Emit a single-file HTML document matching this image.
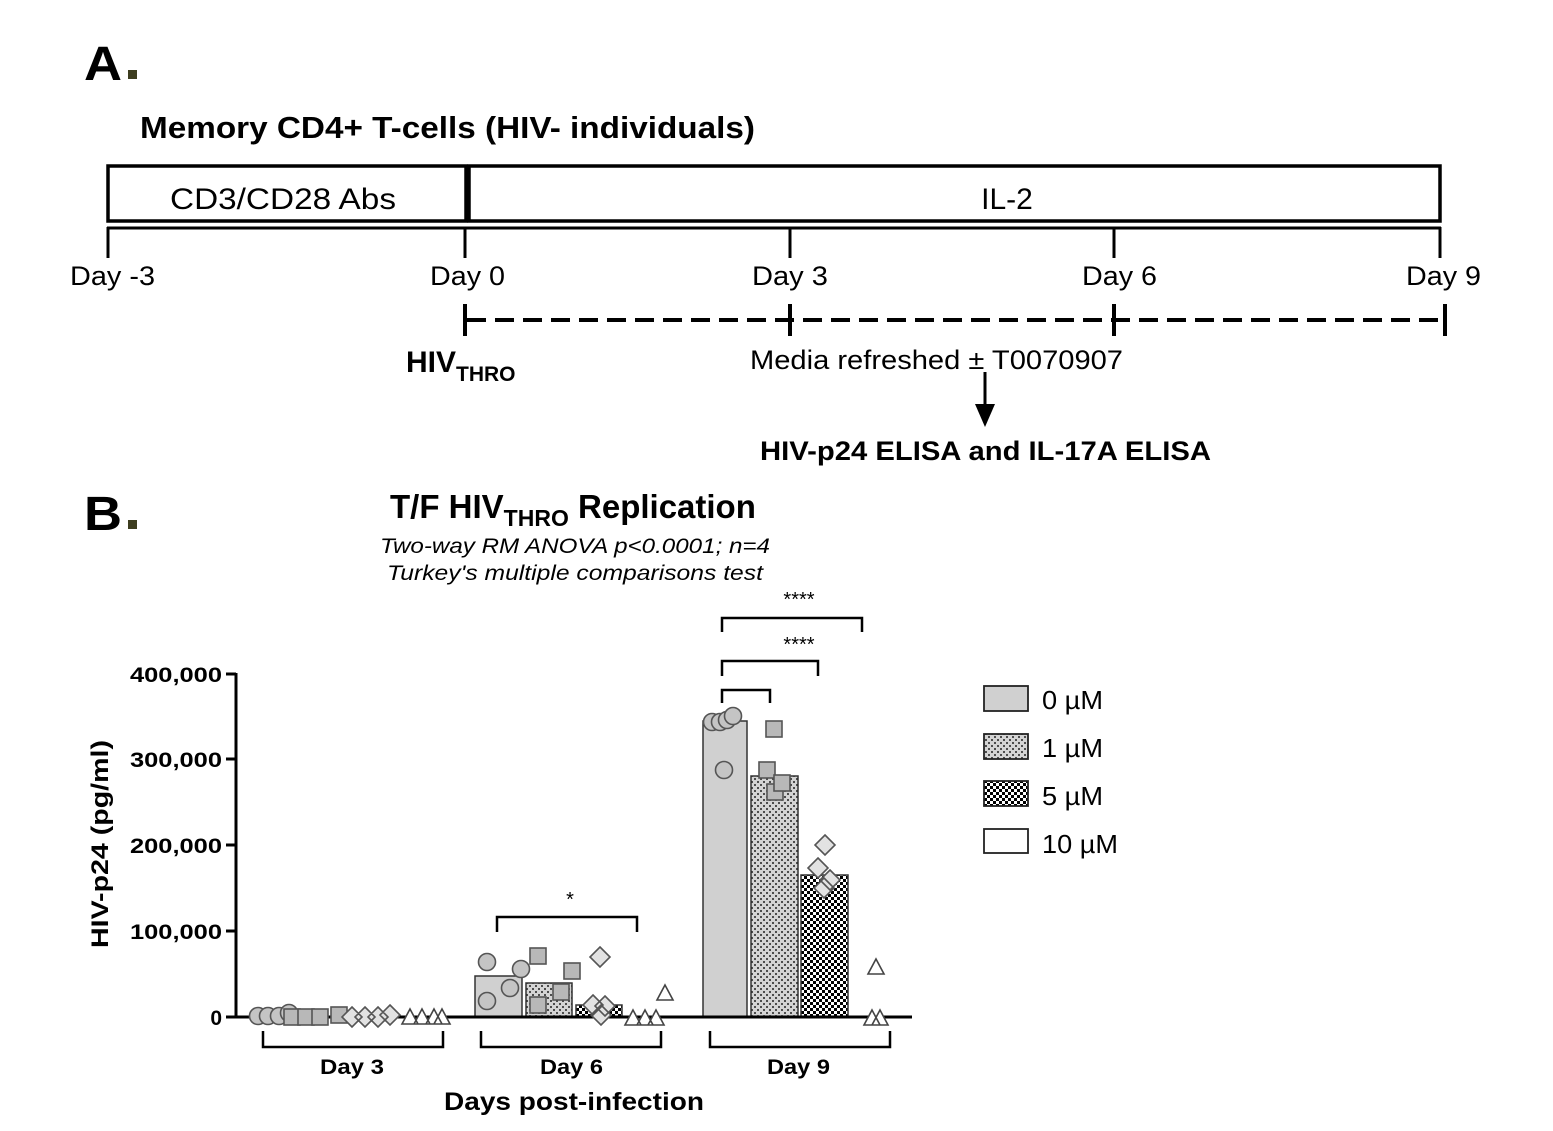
<!DOCTYPE html>
<html><head><meta charset="utf-8"><style>
html,body{margin:0;padding:0;background:#fff;}
svg{display:block;}
text{font-family:"Liberation Sans",Arial,sans-serif;fill:#000;}
</style></head><body>
<svg width="1553" height="1131" viewBox="0 0 1553 1131" xmlns="http://www.w3.org/2000/svg">
<defs>
<pattern id="p1" width="6" height="6" patternUnits="userSpaceOnUse"><rect width="6" height="6" fill="#d4d4d4"/><circle cx="2" cy="2" r="1" fill="#222"/><circle cx="5" cy="5" r="1" fill="#222"/></pattern>
<pattern id="p5" width="6" height="6" patternUnits="userSpaceOnUse"><rect width="6" height="6" fill="#fff"/><rect width="3" height="3" fill="#000"/><rect x="3" y="3" width="3" height="3" fill="#000"/></pattern>
</defs>
<!-- Panel A -->
<text x="84" y="80" font-size="48" font-weight="bold" textLength="38" lengthAdjust="spacingAndGlyphs">A</text>
<rect x="128" y="70" width="9" height="9" fill="#3d3d1f"/>
<text x="140" y="138" font-size="31" font-weight="bold" textLength="615" lengthAdjust="spacingAndGlyphs">Memory CD4+ T-cells (HIV- individuals)</text>
<rect x="108" y="166" width="358" height="55" fill="none" stroke="#000" stroke-width="3.5"/>
<rect x="469" y="166" width="971" height="55" fill="none" stroke="#000" stroke-width="3.5"/>
<text x="170" y="209" font-size="30" textLength="226" lengthAdjust="spacingAndGlyphs">CD3/CD28 Abs</text>
<text x="1007" y="209" font-size="30" text-anchor="middle">IL-2</text>
<g stroke="#000" stroke-width="3">
<line x1="107" y1="228" x2="1441" y2="228"/>
<line x1="108" y1="227" x2="108" y2="258"/>
<line x1="465" y1="227" x2="465" y2="258"/>
<line x1="790" y1="227" x2="790" y2="258"/>
<line x1="1114" y1="227" x2="1114" y2="258"/>
<line x1="1440" y1="227" x2="1440" y2="258"/>
</g>
<g font-size="27">
<text x="70" y="285" textLength="85" lengthAdjust="spacingAndGlyphs">Day -3</text>
<text x="430" y="285" textLength="75" lengthAdjust="spacingAndGlyphs">Day 0</text>
<text x="752" y="285" textLength="76" lengthAdjust="spacingAndGlyphs">Day 3</text>
<text x="1082" y="285" textLength="75" lengthAdjust="spacingAndGlyphs">Day 6</text>
<text x="1406" y="285" textLength="75" lengthAdjust="spacingAndGlyphs">Day 9</text>
</g>
<g stroke="#000" stroke-width="4">
<line x1="467" y1="320" x2="1444" y2="320" stroke-dasharray="19,9"/>
<line x1="465" y1="304" x2="465" y2="336"/>
<line x1="790" y1="304" x2="790" y2="336"/>
<line x1="1114" y1="304" x2="1114" y2="336"/>
<line x1="1445" y1="304" x2="1445" y2="336"/>
</g>
<text x="406" y="372" font-size="30" font-weight="bold">HIV<tspan font-size="21" dy="9">THRO</tspan></text>
<text x="750" y="369" font-size="27" textLength="373" lengthAdjust="spacingAndGlyphs">Media refreshed ± T0070907</text>
<line x1="985" y1="372" x2="985" y2="408" stroke="#000" stroke-width="3"/>
<polygon points="975,404 995,404 985,427" fill="#000"/>
<text x="760" y="460" font-size="27" font-weight="bold" textLength="451" lengthAdjust="spacingAndGlyphs">HIV-p24 ELISA and IL-17A ELISA</text>
<!-- Panel B -->
<text x="84" y="530" font-size="48" font-weight="bold" textLength="38" lengthAdjust="spacingAndGlyphs">B</text>
<rect x="128" y="520" width="9" height="9" fill="#3d3d1f"/>
<text x="390" y="518" font-size="33" font-weight="bold">T/F HIV<tspan font-size="23" dy="8">THRO</tspan><tspan dy="-8"> Replication</tspan></text>
<text x="380" y="553" font-size="21" font-style="italic" textLength="390" lengthAdjust="spacingAndGlyphs">Two-way RM ANOVA p&lt;0.0001; n=4</text>
<text x="387" y="580" font-size="21" font-style="italic" textLength="376" lengthAdjust="spacingAndGlyphs">Turkey's multiple comparisons test</text>
<!-- axes -->
<g stroke="#000" stroke-width="3">
<line x1="236" y1="673" x2="236" y2="1018"/>
<line x1="226" y1="674" x2="236" y2="674"/>
<line x1="226" y1="759" x2="236" y2="759"/>
<line x1="226" y1="845" x2="236" y2="845"/>
<line x1="226" y1="931" x2="236" y2="931"/>
<line x1="226" y1="1017" x2="236" y2="1017"/>
</g>
<g font-size="21" font-weight="bold">
<text x="130" y="682" textLength="92" lengthAdjust="spacingAndGlyphs">400,000</text>
<text x="130" y="767" textLength="92" lengthAdjust="spacingAndGlyphs">300,000</text>
<text x="130" y="853" textLength="92" lengthAdjust="spacingAndGlyphs">200,000</text>
<text x="130" y="939" textLength="92" lengthAdjust="spacingAndGlyphs">100,000</text>
<text x="222" y="1025" text-anchor="end">0</text>
</g>
<text transform="translate(108,948) rotate(-90)" font-size="24" font-weight="bold" textLength="208" lengthAdjust="spacingAndGlyphs">HIV-p24 (pg/ml)</text>
<!-- bars -->
<g stroke="#333" stroke-width="1.5">
<rect x="475" y="976" width="47" height="41" fill="#d0d0d0"/>
<rect x="526" y="983" width="46" height="34" fill="url(#p1)"/>
<rect x="576" y="1005" width="46" height="12" fill="url(#p5)"/>
<rect x="703" y="721" width="44" height="296" fill="#d0d0d0"/>
<rect x="751" y="776" width="47" height="241" fill="url(#p1)"/>
<rect x="801" y="875" width="47" height="142" fill="url(#p5)"/>
</g>
<line x1="236" y1="1017" x2="912" y2="1017" stroke="#000" stroke-width="3"/>
<!-- markers -->
<g fill="#c4c4c4" stroke="#555" stroke-width="1.6">
<circle cx="258" cy="1016" r="8.5"/><circle cx="268" cy="1016" r="8.5"/><circle cx="279" cy="1016" r="8.5"/><circle cx="289" cy="1013" r="8.5"/>
<circle cx="487" cy="962" r="8.5"/><circle cx="487" cy="1001" r="8.5"/><circle cx="510" cy="988" r="8.5"/><circle cx="521" cy="969" r="8.5"/>
<circle cx="712" cy="722" r="8.5"/><circle cx="720" cy="722" r="8.5"/><circle cx="727" cy="720" r="8.5"/><circle cx="733" cy="716" r="8.5"/><circle cx="724" cy="770" r="8.5"/>
</g>
<g fill="#b8b8b8" stroke="#555" stroke-width="1.6">
<rect x="284" y="1009" width="16" height="16"/><rect x="298" y="1009" width="16" height="16"/><rect x="312" y="1009" width="16" height="16"/><rect x="331" y="1007" width="16" height="16"/>
<rect x="530" y="948" width="16" height="16"/><rect x="530" y="997" width="16" height="16"/><rect x="553" y="984" width="16" height="16"/><rect x="564" y="963" width="16" height="16"/>
<rect x="766" y="721" width="16" height="16"/><rect x="759" y="762" width="16" height="16"/><rect x="767" y="784" width="16" height="16"/><rect x="774" y="775" width="16" height="16"/>
</g>
<g fill="#e2e2e2" stroke="#555" stroke-width="1.6">
<path d="M352,1007 l10,10 l-10,10 l-10,-10z M365,1007 l10,10 l-10,10 l-10,-10z M378,1007 l10,10 l-10,10 l-10,-10z M390,1005 l10,10 l-10,10 l-10,-10z"/>
<path d="M600,947 l10,10 l-10,10 l-10,-10z M593,995 l10,10 l-10,10 l-10,-10z M605,996 l10,10 l-10,10 l-10,-10z M601,1005 l10,10 l-10,10 l-10,-10z"/>
<path d="M825,835 l10,10 l-10,10 l-10,-10z M818,858 l10,10 l-10,10 l-10,-10z M830,870 l10,10 l-10,10 l-10,-10z M824,878 l10,10 l-10,10 l-10,-10z"/>
</g>
<g fill="#fff" stroke="#444" stroke-width="1.6">
<path d="M410,1009 l8,15 h-16z M422,1009 l8,15 h-16z M434,1009 l8,15 h-16z M442,1009 l8,15 h-16z"/>
<path d="M665,985 l8,15 h-16z M633,1010 l8,15 h-16z M645,1010 l8,15 h-16z M656,1010 l8,15 h-16z"/>
<path d="M876,959 l8,15 h-16z M872,1010 l8,15 h-16z M880,1010 l8,15 h-16z"/>
</g>
<!-- group brackets -->
<g fill="none" stroke="#000" stroke-width="2.5">
<path d="M263,1031 V1047 H443 V1031"/>
<path d="M481,1031 V1047 H661 V1031"/>
<path d="M710,1031 V1047 H890 V1031"/>
<path d="M497,932 V917 H637 V932"/>
<path d="M722,703 V690 H770 V703"/>
<path d="M722,676 V661 H818 V676"/>
<path d="M722,632 V618 H862 V632"/>
</g>
<text x="570" y="906" font-size="20" text-anchor="middle">*</text>
<text x="799" y="651" font-size="20" text-anchor="middle">****</text>
<text x="799" y="606" font-size="20" text-anchor="middle">****</text>
<g font-size="21" font-weight="bold">
<text x="320" y="1074" textLength="64" lengthAdjust="spacingAndGlyphs">Day 3</text>
<text x="540" y="1074" textLength="63" lengthAdjust="spacingAndGlyphs">Day 6</text>
<text x="767" y="1074" textLength="63" lengthAdjust="spacingAndGlyphs">Day 9</text>
</g>
<text x="444" y="1110" font-size="25" font-weight="bold" textLength="260" lengthAdjust="spacingAndGlyphs">Days post-infection</text>
<!-- legend -->
<g stroke="#222" stroke-width="1.8">
<rect x="984" y="686" width="44" height="25" fill="#d0d0d0"/>
<rect x="984" y="734" width="44" height="25" fill="url(#p1)"/>
<rect x="984" y="781" width="44" height="25" fill="url(#p5)"/>
<rect x="984" y="829" width="44" height="24" fill="#fff"/>
</g>
<g font-size="26">
<text x="1042" y="709" textLength="61" lengthAdjust="spacingAndGlyphs">0 µM</text>
<text x="1042" y="757" textLength="61" lengthAdjust="spacingAndGlyphs">1 µM</text>
<text x="1042" y="805" textLength="61" lengthAdjust="spacingAndGlyphs">5 µM</text>
<text x="1042" y="853" textLength="76" lengthAdjust="spacingAndGlyphs">10 µM</text>
</g>
</svg>
</body></html>
